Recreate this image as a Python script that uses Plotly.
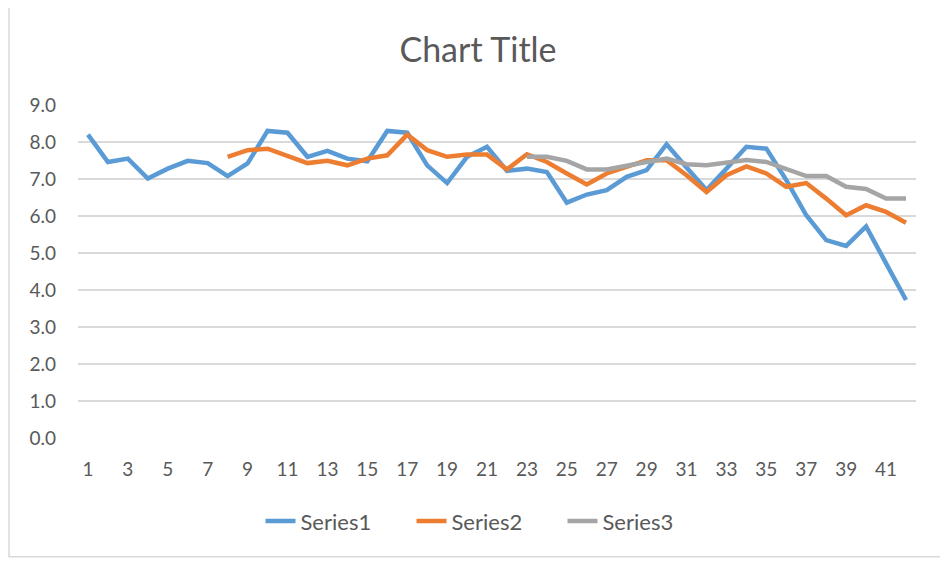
import plotly.graph_objects as go

categories = list(range(1, 43))

series1 = [8.20, 7.46, 7.55, 7.01, 7.28, 7.49, 7.43, 7.08, 7.42, 8.30,
           8.25, 7.60, 7.76, 7.55, 7.48, 8.30, 8.25, 7.37, 6.89, 7.60,
           7.87, 7.22, 7.28, 7.19, 6.36, 6.58, 6.70, 7.06, 7.24, 7.94,
           7.31, 6.70, 7.28, 7.87, 7.82, 6.97, 6.02, 5.35, 5.19, 5.72,
           4.72, 3.73]

series2_start = 8
series2 = [7.60, 7.78, 7.82, 7.64, 7.43, 7.49, 7.37, 7.55, 7.64, 8.20,
           7.78, 7.60, 7.66, 7.66, 7.26, 7.67, 7.46, 7.15, 6.85, 7.15,
           7.34, 7.51, 7.51, 7.10, 6.65, 7.10, 7.34, 7.15, 6.79, 6.89,
           6.47, 6.02, 6.29, 6.11, 5.82]

series3_start = 23
series3 = [7.60, 7.60, 7.49, 7.26, 7.26, 7.37, 7.46, 7.55, 7.40, 7.37,
           7.43, 7.51, 7.46, 7.26, 7.08, 7.08, 6.79, 6.73, 6.47, 6.47]

x_ticks = list(range(1, 43, 2))
y_ticks = [0, 1, 2, 3, 4, 5, 6, 7, 8, 9]
y_tick_labels = [f"{v:.1f}" for v in y_ticks]

colors = ["#5B9BD5", "#ED7D31", "#A5A5A5"]
font_family = "Lato, 'Open Sans', sans-serif"
text_color = "#595959"

fig = go.Figure()
fig.add_trace(go.Scatter(x=categories, y=series1, mode="lines", name="Series1",
                         line=dict(color=colors[0], width=4.5)))
fig.add_trace(go.Scatter(x=categories[series2_start - 1:], y=series2, mode="lines",
                         name="Series2", line=dict(color=colors[1], width=4.5)))
fig.add_trace(go.Scatter(x=categories[series3_start - 1:], y=series3, mode="lines",
                         name="Series3", line=dict(color=colors[2], width=4.5)))

OFF = 8  # page body margin
W, H = 948 - OFF, 561 - OFF
L, R, T, B = 78 - OFF, 948 - 916, 104.5 - OFF, 561 - 438.5
pw = W - L - R
ph = H - T - B

def px_x(p):
    return (p - OFF - L) / pw

def px_y(p):
    return (H - B - (p - OFF)) / ph

fig.update_layout(
    width=W, height=H,
    margin=dict(l=L, r=R, t=T, b=B),
    paper_bgcolor="white", plot_bgcolor="white",
    font=dict(family=font_family, color=text_color, size=19),
    title=dict(text="Chart Title", x=0.5, xanchor="center", y=1 - (50 - OFF) / H, yanchor="middle",
               font=dict(size=34, color=text_color, family=font_family)),
    showlegend=True,
    legend=dict(orientation="h", x=px_x(487), xanchor="center", y=px_y(522), yanchor="middle",
                font=dict(size=22, color=text_color), entrywidth=106, entrywidthmode="pixels",
                bgcolor="rgba(0,0,0,0)"),
    xaxis=dict(range=[0.5, 42.5], tickmode="array", tickvals=x_ticks,
               ticktext=[str(v) for v in x_ticks], showgrid=False, zeroline=False,
               showline=False, ticks="", ticklabelstandoff=18, fixedrange=True),
    yaxis=dict(range=[0, 9], tickmode="array", tickvals=y_ticks, ticktext=y_tick_labels,
               showgrid=True, gridcolor="#D9D9D9", gridwidth=1.5, zeroline=False,
               showline=False, ticks="", ticklabelstandoff=21, fixedrange=True),
    shapes=[dict(type="rect", xref="paper", yref="paper",
                 x0=px_x(9), x1=px_x(943.5), y0=px_y(557.5), y1=px_y(6),
                 line=dict(color="#D9D9D9", width=1.5), fillcolor="rgba(0,0,0,0)", layer="below")],
)

fig.write_html("out.html")
